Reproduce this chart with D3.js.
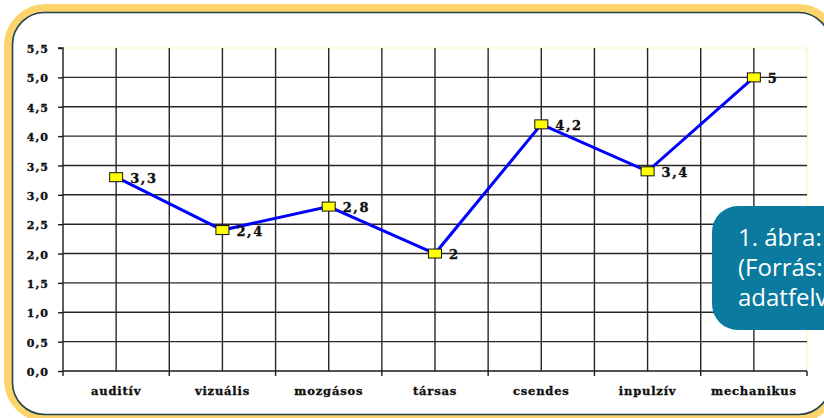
<!DOCTYPE html>
<html>
<head>
<meta charset="utf-8">
<script src="https://cdn.jsdelivr.net/npm/d3@7"></script>
<style>
  html, body { margin: 0; padding: 0; background: #ffffff; }
  svg { display: block; }
</style>
</head>
<body>
<script>
const categories = ["auditív", "vizuális", "mozgásos", "társas", "csendes", "inpulzív", "mechanikus"];
const values = [3.3, 2.4, 2.8, 2, 4.2, 3.4, 5];
const valueLabels = ["3,3", "2,4", "2,8", "2", "4,2", "3,4", "5"];
const yTicks = [0, 0.5, 1, 1.5, 2, 2.5, 3, 3.5, 4, 4.5, 5, 5.5];
const yTickLabels = ["0,0", "0,5", "1,0", "1,5", "2,0", "2,5", "3,0", "3,5", "4,0", "4,5", "5,0", "5,5"];
const calloutLines = ["1. ábra:", "(Forrás:", "adatfelvétel)"];

(function () {
const W = 824, H = 418;
const svg = d3.select("body").append("svg").attr("width", W).attr("height", H);

svg.append("rect").attr("width", W).attr("height", H).attr("fill", "#ffffff");

// frame
svg.append("rect").attr("x", 8).attr("y", 8).attr("width", 828).attr("height", 410)
  .attr("rx", 38).attr("fill", "none").attr("stroke", "#fdd46b").attr("stroke-width", 8);
svg.append("rect").attr("x", 12.5).attr("y", 12.5).attr("width", 818).attr("height", 402)
  .attr("rx", 32).attr("fill", "none").attr("stroke", "#1d4450").attr("stroke-width", 1.6);

const pL = 63, pR = 807, pT = 48, pB = 371;
const x = d3.scaleBand().domain(categories).range([pL, pR]).padding(0);
const y = d3.scaleLinear().domain([0, 5.5]).range([pB, pT]);
const bw = x.bandwidth();

const g = svg.append("g");

// plot border (light)
g.append("line").attr("x1", pL).attr("x2", pR).attr("y1", y(5.5)).attr("y2", y(5.5))
  .attr("stroke", "#fdf7b0").attr("stroke-width", 1.2);
g.append("line").attr("x1", pR).attr("x2", pR).attr("y1", y(5.5)).attr("y2", y(0))
  .attr("stroke", "#fdf7b0").attr("stroke-width", 1.2);

// horizontal gridlines
g.selectAll("line.hg").data(yTicks.filter(t => t > 0 && t < 5.5)).enter().append("line")
  .attr("x1", pL).attr("x2", pR).attr("y1", d => y(d)).attr("y2", d => y(d))
  .attr("stroke", "#262626").attr("stroke-width", 1.4);

// vertical gridlines: centers and inner boundaries
const vLines = [];
categories.forEach((c, i) => {
  vLines.push(x(c) + bw / 2);
  if (i > 0) vLines.push(x(c));
});
g.selectAll("line.vg").data(vLines).enter().append("line")
  .attr("x1", d => d).attr("x2", d => d).attr("y1", y(5.5)).attr("y2", y(0))
  .attr("stroke", "#262626").attr("stroke-width", 1.4);

const txt = sel => sel
  .attr("font-family", "'DejaVu Serif', serif").attr("font-weight", "bold")
  .attr("fill", "#111").attr("stroke", "#111").attr("stroke-width", 0.35);

// y axis
const yAxis = d3.axisLeft(y).tickValues(yTicks).tickSize(5)
  .tickFormat((d, i) => yTickLabels[i]);
const ya = g.append("g").attr("transform", `translate(${pL},0)`).call(yAxis);
ya.select(".domain").attr("stroke", "#1a1a1a").attr("stroke-width", 1.4).attr("d", `M-5,${pT}H0V${pB}`);
ya.selectAll(".tick line").attr("stroke", "#1a1a1a").attr("stroke-width", 1.4);
ya.selectAll(".tick text")
  .attr("x", -14).attr("dy", "0.42em")
  .attr("font-size", "11px").attr("letter-spacing", "1px").call(txt);

// x axis
const xAxis = d3.axisBottom(x).tickSize(0).tickFormat(d => d);
const xa = g.append("g").attr("transform", `translate(0,${pB})`).call(xAxis);
xa.select(".domain").attr("stroke", "#1a1a1a").attr("stroke-width", 1.4).attr("d", `M${pL},0H${pR}`);
xa.selectAll(".tick text")
  .attr("y", 24).attr("dy", 0)
  .attr("font-size", "11.5px").attr("letter-spacing", "0.8px").call(txt);
const bTicks = categories.map(c => x(c)).concat([pR]);
xa.selectAll("line.bt").data(bTicks).enter().append("line")
  .attr("x1", d => d).attr("x2", d => d).attr("y1", 0).attr("y2", 5)
  .attr("stroke", "#1a1a1a").attr("stroke-width", 1.4);

// data line
const cx = c => x(c) + bw / 2;
const line = d3.line().x((d, i) => cx(categories[i])).y(d => y(d));
g.append("path").datum(values).attr("d", line)
  .attr("fill", "none").attr("stroke", "#0000ff").attr("stroke-width", 3);

// markers
g.selectAll("rect.mk").data(values).enter().append("rect")
  .attr("x", (d, i) => cx(categories[i]) - 6.5).attr("y", d => y(d) - 4.5)
  .attr("width", 13).attr("height", 9)
  .attr("fill", "#ffff00").attr("stroke", "#111").attr("stroke-width", 1);

// value labels
g.selectAll("text.vl").data(values).enter().append("text")
  .attr("x", (d, i) => cx(categories[i]) + 14).attr("y", d => y(d) + 5.5)
  .text((d, i) => valueLabels[i])
  .attr("font-size", "13px").attr("letter-spacing", "1.6px").call(txt);

// callout
svg.append("rect").attr("x", 712).attr("y", 206).attr("width", 160).attr("height", 124)
  .attr("rx", 26).attr("fill", "#0a7a9f");
svg.selectAll("text.co").data(calloutLines).enter().append("text")
  .attr("x", 738).attr("y", (d, i) => 246 + i * 30)
  .text(d => d)
  .attr("font-family", "'Open Sans', sans-serif").attr("font-size", "24px")
  .attr("fill", "#ffffff");
})();
</script>
</body>
</html>
